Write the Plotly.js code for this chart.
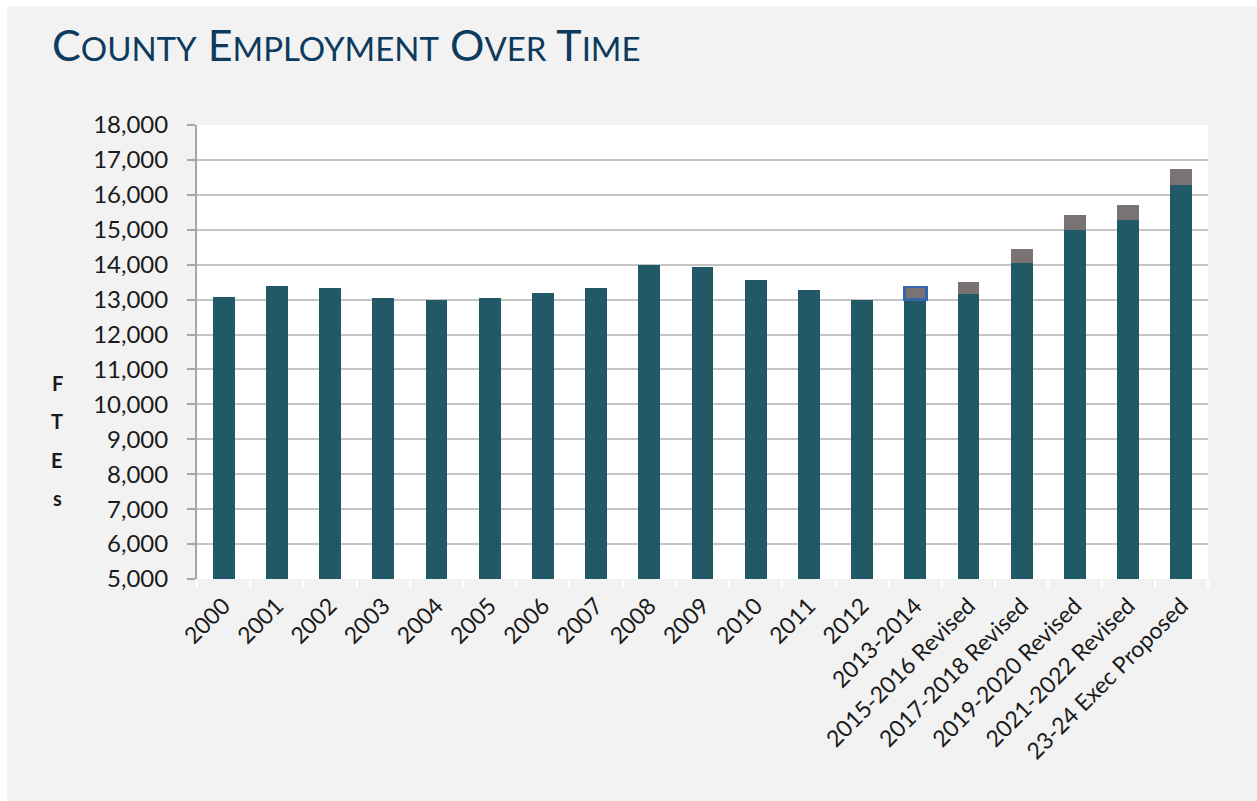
<!DOCTYPE html>
<html>
<head>
<meta charset="utf-8">
<script src="https://cdn.plot.ly/plotly-3.0.1.min.js"></script>
<style>
  html, body { margin: 0; padding: 0; background: #ffffff; width: 1257px; height: 801px; overflow: hidden; }
  #chart { position: absolute; left: 7px; top: 6px; width: 1250px; height: 795px; }
</style>
</head>
<body>
<div id="chart"></div>
<script>
// ---- data ----
const categories = ['2000', '2001', '2002', '2003', '2004', '2005', '2006', '2007', '2008', '2009',
  '2010', '2011', '2012', '2013-2014', '2015-2016 Revised', '2017-2018 Revised',
  '2019-2020 Revised', '2021-2022 Revised', '23-24 Exec Proposed'];
const baseFTEs = [13085, 13390, 13340, 13055, 12980, 13055, 13200, 13345, 13995, 13925,
  13565, 13270, 12975, 13010, 13160, 14040, 14995, 15280, 16285];
const addedFTEs = [0, 0, 0, 0, 0, 0, 0, 0, 0, 0,
  0, 0, 0, 350, 355, 400, 430, 430, 460];
const yTickValues = [5000, 6000, 7000, 8000, 9000, 10000, 11000, 12000, 13000, 14000,
  15000, 16000, 17000, 18000];
const chartTitle = 'County Employment Over Time';
const yTitleLetters = ['F', 'T', 'E', 's'];

// ---- helpers ----
function smallCaps(text, small) {
  return text.split(' ').map(w =>
    w.charAt(0).toUpperCase() +
    '<span style="font-size:' + small + 'px">' + w.slice(1).toUpperCase() + '</span>'
  ).join(' ');
}

const teal = '#215967';
const grey = '#7a7373';
const highlightIdx = categories.indexOf('2013-2014');

const traceBase = {
  type: 'bar',
  x: categories,
  y: baseFTEs,
  marker: { color: teal, line: { width: 0 } },
  width: 0.41,
  hoverinfo: 'x+y',
  showlegend: false
};
const traceAdded = {
  type: 'bar',
  x: categories,
  y: addedFTEs,
  marker: {
    color: grey,
    line: {
      color: categories.map((c, i) => i === highlightIdx ? '#3a64a8' : 'rgba(0,0,0,0)'),
      width: categories.map((c, i) => i === highlightIdx ? 2.5 : 0)
    }
  },
  width: 0.41,
  hoverinfo: 'x+y',
  showlegend: false
};

// plot area in page px: x 197..1208, y 125..579 ; div offset (7,6)
const plotLeft = 197, plotRight = 1208, plotTop = 125, plotBottom = 579;
const pw = plotRight - plotLeft, ph = plotBottom - plotTop;

const annotations = yTitleLetters.map((ch, i) => ({
  text: '<b>' + ch + '</b>',
  xref: 'paper', yref: 'paper',
  x: (57 - plotLeft) / pw,
  y: (plotBottom - (383 + i * 38.3)) / ph,
  xanchor: 'center', yanchor: 'middle',
  showarrow: false,
  font: { family: 'Lato, "Open Sans", sans-serif', size: 20, color: '#1a1a1a' }
}));

const layout = {
  width: 1250,
  height: 795,
  paper_bgcolor: '#f2f2f2',
  plot_bgcolor: '#ffffff',
  barmode: 'stack',
  margin: { l: plotLeft - 7, r: 1250 - (plotRight - 7), t: plotTop - 6, b: 795 - (plotBottom - 6), pad: 0 },
  title: {
    text: smallCaps(chartTitle, 33),
    font: { family: 'Lato, "Open Sans", sans-serif', size: 43, color: '#0d3b5e' },
    xref: 'container', yref: 'container',
    x: (52 - 7) / 1250, xanchor: 'left',
    y: 1 - (46 - 6) / 795, yanchor: 'middle'
  },
  xaxis: {
    type: 'category',
    tickangle: -45,
    tickfont: { family: 'Lato, "Open Sans", sans-serif', size: 23, color: '#1a1a1a' },
    ticks: 'outside',
    tickson: 'boundaries',
    ticklen: 8,
    tickwidth: 2,
    tickcolor: '#ffffff',
    ticklabelstandoff: 8,
    showline: false,
    showgrid: false,
    zeroline: false,
    range: [-0.5, categories.length - 0.5],
    fixedrange: true
  },
  yaxis: {
    range: [5000, 18000],
    tickvals: yTickValues,
    tickformat: ',d',
    tickfont: { family: 'Lato, "Open Sans", sans-serif', size: 24, color: '#1a1a1a' },
    ticks: 'outside',
    ticklen: 8,
    tickwidth: 2,
    tickcolor: '#a6a6a6',
    ticklabelstandoff: 14,
    showline: true,
    linecolor: '#a6a6a6',
    linewidth: 2,
    showgrid: true,
    gridcolor: '#c4c4c4',
    gridwidth: 2,
    zeroline: false,
    fixedrange: true
  },
  annotations: annotations,
  bargap: 0.59
};

Plotly.newPlot('chart', [traceBase, traceAdded], layout, { displayModeBar: false, staticPlot: true });
</script>
</body>
</html>
